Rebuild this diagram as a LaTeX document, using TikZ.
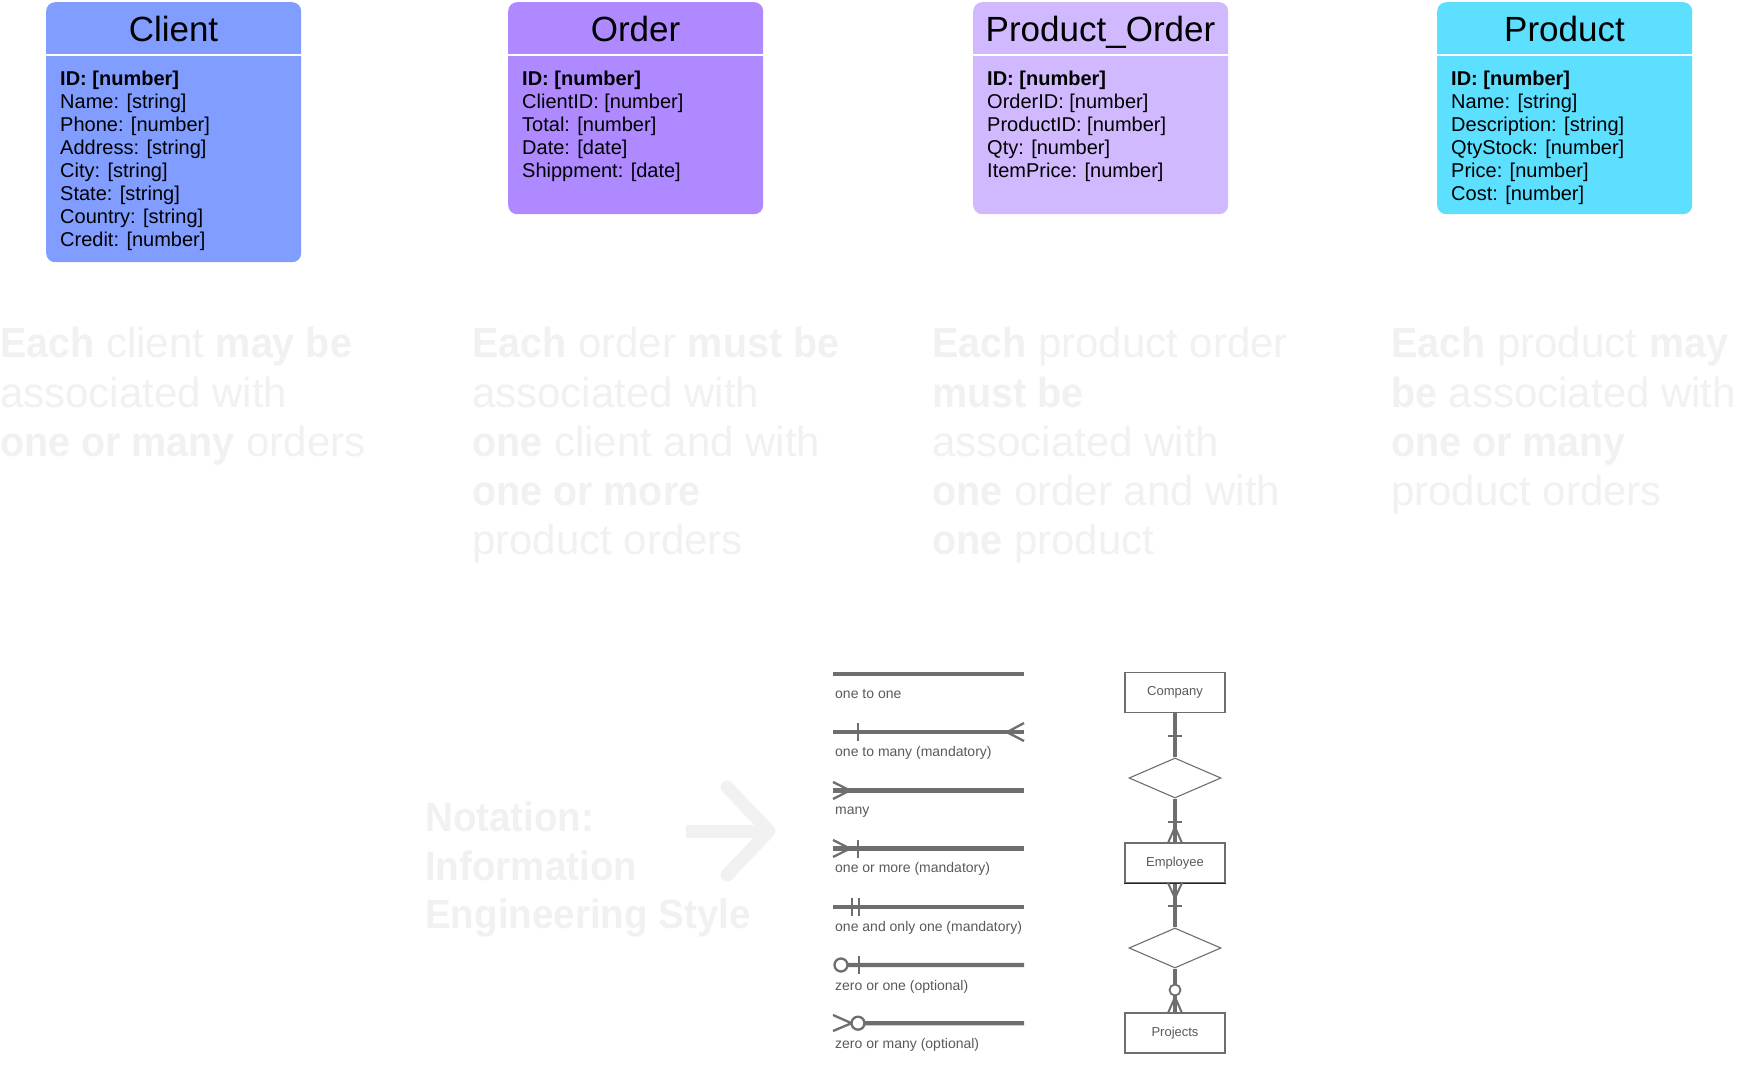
\documentclass[tikz,border=0pt]{standalone}
\usepackage{fontspec}
\setmainfont{Liberation Sans}
\newfontfamily\cfont{Liberation Sans}[FakeStretch=0.94]
\usetikzlibrary{shapes.geometric}
\definecolor{cClient}{HTML}{809DFF}
\definecolor{cOrder}{HTML}{AF89FF}
\definecolor{cPO}{HTML}{D1B9FF}
\definecolor{cProduct}{HTML}{5DE0FF}
\definecolor{descgray}{HTML}{F1F1F1}
\definecolor{legc}{HTML}{6E6E6E}
\definecolor{legtext}{HTML}{5A5A5A}
\newcommand{\hb}[1]{{\cfont\bfseries #1}}
\begin{document}
\begin{tikzpicture}[x=1pt,y=-1pt,
  ent/.style={rounded corners=9pt, inner sep=0pt, minimum width=255pt, anchor=north west, draw=none},
  divider/.style={white, line width=2.5pt},
  enttitle/.style={anchor=base, inner sep=0pt, font=\fontsize{35}{40}\selectfont},
  bodyt/.style={anchor=base west, inner sep=0pt, font=\fontsize{20}{23}\selectfont},
  desct/.style={anchor=base west, inner sep=0pt, text=descgray, font=\fontsize{42}{49}\selectfont},
  notet/.style={anchor=base west, inner sep=0pt, text=descgray, font=\fontsize{41}{49}\selectfont\cfont\bfseries},
  bigarrow/.style={descgray, line width=13pt, line cap=round, line join=round},
  legline/.style={legc, line width=4.4pt},
  legmark/.style={legc, line width=2.3pt},
  legcirc/.style={legc, line width=2.3pt, fill=white},
  legtxt/.style={anchor=base west, inner sep=0pt, text=legtext, font=\fontsize{14}{16}\selectfont},
  erbox/.style={draw=legc, line width=1.3pt, minimum width=100pt, minimum height=40pt, inner sep=0pt, text=legtext, font=\fontsize{13}{15}\selectfont},
  erdia/.style={diamond, draw=legc, line width=1.1pt, minimum width=92pt, minimum height=40pt, inner sep=0pt},
  conn/.style={legc, line width=3.3pt},
  ermark/.style={legc, line width=2pt}
]
\useasboundingbox[fill=white] (0,0) rectangle (1757,1067);

% ---------- entity boxes ----------
\node[ent, fill=cClient, minimum height=260pt] (client) at (46,2) {};
\node[ent, fill=cOrder, minimum height=212pt] (order) at (508,2) {};
\node[ent, fill=cPO, minimum height=212pt] (po) at (973,2) {};
\node[ent, fill=cProduct, minimum height=212pt] (product) at (1437,2) {};

\draw[divider] (46,55) -- (301,55);
\draw[divider] (508,55) -- (763,55);
\draw[divider] (973,55) -- (1228,55);
\draw[divider] (1437,55) -- (1692,55);

\node[enttitle] (clientT) at (173.5,42) {Client};
\node[enttitle] (orderT) at (635.5,42) {Order};
\node[enttitle] (poT) at (1100.5,42) {Product\_Order};
\node[enttitle] (productT) at (1564.5,42) {Product};

\foreach \t [count=\i] in {{\textbf{ID: [number]}}, {Name: [string]}, {Phone: [number]}, {Address: [string]}, {City: [string]}, {State: [string]}, {Country: [string]}, {Credit: [number]}}
  \node[bodyt] (cl\i) at (60,{86+23*(\i-1)}) {\t};
\foreach \t [count=\i] in {{\textbf{ID: [number]}}, {ClientID: [number]}, {Total: [number]}, {Date: [date]}, {Shippment: [date]}}
  \node[bodyt] (ol\i) at (522,{86+23*(\i-1)}) {\t};
\foreach \t [count=\i] in {{\textbf{ID: [number]}}, {OrderID: [number]}, {ProductID: [number]}, {Qty: [number]}, {ItemPrice: [number]}}
  \node[bodyt] (pol\i) at (987,{86+23*(\i-1)}) {\t};
\foreach \t [count=\i] in {{\textbf{ID: [number]}}, {Name: [string]}, {Description: [string]}, {QtyStock: [number]}, {Price: [number]}, {Cost: [number]}}
  \node[bodyt] (pl\i) at (1451,{86+23*(\i-1)}) {\t};

% ---------- descriptions ----------
\foreach \t [count=\i] in {{\hb{Each} client \hb{may be}}, {associated with}, {\hb{one or many} orders}}
  \node[desct] (d1l\i) at (0,{358+49*(\i-1)}) {\t};
\foreach \t [count=\i] in {{\hb{Each} order \hb{must be}}, {associated with}, {\hb{one} client and with}, {\hb{one or more}}, {product orders}}
  \node[desct] (d2l\i) at (472,{358+49*(\i-1)}) {\t};
\foreach \t [count=\i] in {{\hb{Each} product order}, {\hb{must be}}, {associated with}, {\hb{one} order and with}, {\hb{one} product}}
  \node[desct] (d3l\i) at (932,{358+49*(\i-1)}) {\t};
\foreach \t [count=\i] in {{\hb{Each} product \hb{may}}, {\hb{be} associated with}, {\hb{one or many}}, {product orders}}
  \node[desct] (d4l\i) at (1391,{358+49*(\i-1)}) {\t};

% ---------- notation ----------
\node[notet] (n1) at (425,831) {Notation:};
\node[notet] (n2) at (425,880) {Information};
\node[notet] (n3) at (425,928) {Engineering Style};
\draw[bigarrow, line cap=butt] (686,831) -- (766,831);
\draw[bigarrow] (727,787) -- (769,831) -- (727,875);

% ---------- legend ----------
\foreach \k in {1,...,7} {
  \coordinate (la\k) at (833,{674+58.2*(\k-1)});
  \coordinate (lb\k) at (1024,{674+58.2*(\k-1)});
}
% 1 one to one
\draw[legline] (la1) -- (lb1);
\node[legtxt] (lt1) at (835,698) {one to one};
% 2 one to many
\draw[legline] (la2) -- (lb2);
\draw[legmark] (858,723) -- (858,741);
\draw[legmark] (1024,723) -- (1007,732.2) -- (1024,741);
\node[legtxt] (lt2) at (835,756) {one to many (mandatory)};
% 3 many
\draw[legline] (la3) -- (lb3);
\draw[legmark] (833,782) -- (850,790.4) -- (833,799);
\node[legtxt] (lt3) at (835,814) {many};
% 4 one or more
\draw[legline] (la4) -- (lb4);
\draw[legmark] (833,840) -- (850,848.6) -- (833,857);
\draw[legmark] (858,840) -- (858,858);
\node[legtxt] (lt4) at (835,872) {one or more (mandatory)};
% 5 one and only one
\draw[legline] (la5) -- (lb5);
\draw[legmark] (852,898) -- (852,916);
\draw[legmark] (859,898) -- (859,916);
\node[legtxt] (lt5) at (835,931) {one and only one (mandatory)};
% 6 zero or one
\draw[legline] (848,965) -- (lb6);
\draw[legcirc] (841,965) circle (6.5);
\draw[legmark] (859,956) -- (859,974);
\node[legtxt] (lt6) at (835,990) {zero or one (optional)};
% 7 zero or many
\draw[legline] (864,1023.2) -- (lb7);
\draw[legmark] (833,1015) -- (851.5,1023.2) -- (833,1031);
\draw[legcirc] (858,1023.2) circle (6.5);
\node[legtxt] (lt7) at (835,1048) {zero or many (optional)};

% ---------- example ER diagram ----------
\node[erbox] (company) at (1175,692.5) {Company};
\node[erdia] (dia1) at (1175,778) {};
\node[erbox] (employee) at (1175,863) {Employee};
\draw[black!85, line width=1.3pt] (employee.south west) -- (employee.south east);
\node[erdia] (dia2) at (1175,948) {};
\node[erbox] (projects) at (1175,1033) {Projects};

\draw[conn] (company.south) -- (dia1.north);
\draw[conn] (dia1.south) -- (employee.north);
\draw[conn] (employee.south) -- (dia2.north);
\draw[conn] (dia2.south) -- (projects.north);

\draw[ermark] (1168,736) -- (1182,736);
\draw[ermark] (1168,822) -- (1182,822);
\draw[ermark] (1168,843) -- (1175,827) -- (1182,843);
\draw[ermark] (1168,883) -- (1175,898) -- (1182,883);
\draw[ermark] (1168,906) -- (1182,906);
\draw[legcirc, line width=1.8pt] (1175,990) circle (5.5);
\draw[ermark] (1168,1013) -- (1175,997) -- (1182,1013);
\end{tikzpicture}
\end{document}
